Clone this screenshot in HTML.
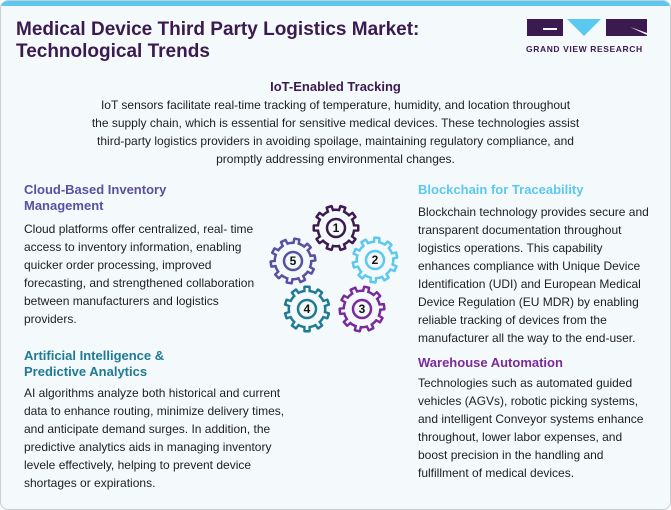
<!DOCTYPE html>
<html><head><meta charset="utf-8"><style>
html,body{margin:0;padding:0;width:671px;height:510px;overflow:hidden;background:#fff;font-family:"Liberation Sans",sans-serif;}
.card{position:absolute;left:0;top:0;width:669px;height:508px;border:1px solid #c9ced3;border-radius:8px;background:#f4f9fc;overflow:hidden;}
.bar{position:absolute;left:0;top:0;width:100%;height:5px;background:#5bc8f0;}
.t{position:absolute;white-space:nowrap;line-height:18px;font-size:12px;color:#1e1e1e;}
.h{position:absolute;white-space:nowrap;line-height:16px;font-size:13px;font-weight:bold;}
.title{position:absolute;left:16px;font-size:19px;font-weight:bold;color:#3b1a4f;white-space:nowrap;line-height:22px;}
</style></head><body>
<div class="card"><div class="bar"></div></div>

<div class="title" style="top:19px">Medical Device Third Party Logistics Market:</div>
<div class="title" style="top:41px">Technological Trends</div>

<!-- logo -->
<div style="position:absolute;left:527px;top:19px;width:36px;height:17px;background:#3b1a4f"></div>
<div style="position:absolute;left:543px;top:28px;width:14px;height:2px;background:#f4f9fc"></div>
<svg style="position:absolute;left:567px;top:19px" width="34" height="18"><polygon points="0,0 34,0 17,17" fill="#5bc8f0"/></svg>
<div style="position:absolute;left:606px;top:19px;width:41px;height:17px;background:#3b1a4f"></div>
<svg style="position:absolute;left:630px;top:27px" width="18" height="9"><polygon points="0,0 17,6 17,8" fill="#f4f9fc"/></svg>
<div style="position:absolute;left:526px;top:44px;font-size:8.5px;font-weight:bold;color:#3b1a4f;letter-spacing:0.6px;white-space:nowrap">GRAND VIEW RESEARCH</div>

<!-- IoT -->
<div class="h" style="left:0;width:671px;text-align:center;top:79px;color:#3b1a4f">IoT-Enabled Tracking</div>
<div class="t" style="left:0;width:671px;text-align:center;top:96px">IoT sensors facilitate real-time tracking of temperature, humidity, and location throughout</div>
<div class="t" style="left:0;width:671px;text-align:center;top:114px">the supply chain, which is essential for sensitive medical devices. These technologies assist</div>
<div class="t" style="left:0;width:671px;text-align:center;top:132px">third-party logistics providers in avoiding spoilage, maintaining regulatory compliance, and</div>
<div class="t" style="left:0;width:671px;text-align:center;top:150px">promptly addressing environmental changes.</div>

<!-- Cloud -->
<div class="h" style="left:24px;top:182px;color:#5a4fa0">Cloud-Based Inventory</div>
<div class="h" style="left:24px;top:198px;color:#5a4fa0">Management</div>
<div class="t" style="left:24px;top:220px">Cloud platforms offer centralized, real- time</div>
<div class="t" style="left:24px;top:238px">access to inventory information, enabling</div>
<div class="t" style="left:24px;top:256px">quicker order processing, improved</div>
<div class="t" style="left:24px;top:274px">forecasting, and strengthened collaboration</div>
<div class="t" style="left:24px;top:292px">between manufacturers and logistics</div>
<div class="t" style="left:24px;top:310px">providers.</div>

<!-- AI -->
<div class="h" style="left:24px;top:348px;color:#1f7a95">Artificial Intelligence &amp;</div>
<div class="h" style="left:24px;top:364px;color:#1f7a95">Predictive Analytics</div>
<div class="t" style="left:24px;top:384px">AI algorithms analyze both historical and current</div>
<div class="t" style="left:24px;top:402px">data to enhance routing, minimize delivery times,</div>
<div class="t" style="left:24px;top:420px">and anticipate demand surges. In addition, the</div>
<div class="t" style="left:24px;top:438px">predictive analytics aids in managing inventory</div>
<div class="t" style="left:24px;top:456px">levele effectively, helping to prevent device</div>
<div class="t" style="left:24px;top:474px">shortages or expirations.</div>

<!-- Blockchain -->
<div class="h" style="left:418px;top:182px;color:#5bc8f0">Blockchain for Traceability</div>
<div class="t" style="left:418px;top:203px">Blockchain technology provides secure and</div>
<div class="t" style="left:418px;top:221px">transparent documentation throughout</div>
<div class="t" style="left:418px;top:239px">logistics operations. This capability</div>
<div class="t" style="left:418px;top:257px">enhances compliance with Unique Device</div>
<div class="t" style="left:418px;top:275px">Identification (UDI) and European Medical</div>
<div class="t" style="left:418px;top:293px">Device Regulation (EU MDR) by enabling</div>
<div class="t" style="left:418px;top:311px">reliable tracking of devices from the</div>
<div class="t" style="left:418px;top:329px">manufacturer all the way to the end-user.</div>

<!-- Warehouse -->
<div class="h" style="left:418px;top:355px;color:#7a2a9a">Warehouse Automation</div>
<div class="t" style="left:418px;top:374px">Technologies such as automated guided</div>
<div class="t" style="left:418px;top:392px">vehicles (AGVs), robotic picking systems,</div>
<div class="t" style="left:418px;top:410px">and intelligent Conveyor systems enhance</div>
<div class="t" style="left:418px;top:428px">throughout, lower labor expenses, and</div>
<div class="t" style="left:418px;top:446px">boost precision in the handling and</div>
<div class="t" style="left:418px;top:464px">fulfillment of medical devices.</div>

<!-- gears -->
<svg style="position:absolute;left:0;top:0" width="671" height="510">
<defs>
<g id="gO">
<circle r="19.5"/>
<rect x="-3.8" y="-23.5" width="7.6" height="9" rx="1.5" transform="rotate(0)"/>
<rect x="-3.8" y="-23.5" width="7.6" height="9" rx="1.5" transform="rotate(36)"/>
<rect x="-3.8" y="-23.5" width="7.6" height="9" rx="1.5" transform="rotate(72)"/>
<rect x="-3.8" y="-23.5" width="7.6" height="9" rx="1.5" transform="rotate(108)"/>
<rect x="-3.8" y="-23.5" width="7.6" height="9" rx="1.5" transform="rotate(144)"/>
<rect x="-3.8" y="-23.5" width="7.6" height="9" rx="1.5" transform="rotate(180)"/>
<rect x="-3.8" y="-23.5" width="7.6" height="9" rx="1.5" transform="rotate(216)"/>
<rect x="-3.8" y="-23.5" width="7.6" height="9" rx="1.5" transform="rotate(252)"/>
<rect x="-3.8" y="-23.5" width="7.6" height="9" rx="1.5" transform="rotate(288)"/>
<rect x="-3.8" y="-23.5" width="7.6" height="9" rx="1.5" transform="rotate(324)"/>
</g>
<g id="gI">
<circle r="17"/>
<rect x="-1.4" y="-21" width="2.8" height="6" transform="rotate(0)"/>
<rect x="-1.4" y="-21" width="2.8" height="6" transform="rotate(36)"/>
<rect x="-1.4" y="-21" width="2.8" height="6" transform="rotate(72)"/>
<rect x="-1.4" y="-21" width="2.8" height="6" transform="rotate(108)"/>
<rect x="-1.4" y="-21" width="2.8" height="6" transform="rotate(144)"/>
<rect x="-1.4" y="-21" width="2.8" height="6" transform="rotate(180)"/>
<rect x="-1.4" y="-21" width="2.8" height="6" transform="rotate(216)"/>
<rect x="-1.4" y="-21" width="2.8" height="6" transform="rotate(252)"/>
<rect x="-1.4" y="-21" width="2.8" height="6" transform="rotate(288)"/>
<rect x="-1.4" y="-21" width="2.8" height="6" transform="rotate(324)"/>
</g>
</defs>
<g font-family="Liberation Sans, sans-serif" font-weight="bold" font-size="12" text-anchor="middle" fill="#111">
<g transform="translate(336,228) rotate(18)"><use href="#gO" fill="#3b1a4f"/><use href="#gI" fill="#f4f9fc"/></g>
<circle cx="336" cy="228" r="9" fill="#f4f9fc" stroke="#3b1a4f" stroke-width="2.5"/><text x="336" y="232">1</text>
<g transform="translate(375,260) rotate(5)"><use href="#gO" fill="#5bc8f0"/><use href="#gI" fill="#f4f9fc"/></g>
<circle cx="375" cy="260" r="9" fill="#f4f9fc" stroke="#5bc8f0" stroke-width="2.5"/><text x="375" y="264">2</text>
<g transform="translate(362,309) rotate(12)"><use href="#gO" fill="#7a2a9a"/><use href="#gI" fill="#f4f9fc"/></g>
<circle cx="362" cy="309" r="9" fill="#f4f9fc" stroke="#7a2a9a" stroke-width="2.5"/><text x="362" y="313">3</text>
<g transform="translate(307,309) rotate(0)"><use href="#gO" fill="#1f7a95"/><use href="#gI" fill="#f4f9fc"/></g>
<circle cx="307" cy="309" r="9" fill="#f4f9fc" stroke="#1f7a95" stroke-width="2.5"/><text x="307" y="313">4</text>
<g transform="translate(293,261) rotate(10)"><use href="#gO" fill="#5a4fa0"/><use href="#gI" fill="#f4f9fc"/></g>
<circle cx="293" cy="261" r="9" fill="#f4f9fc" stroke="#5a4fa0" stroke-width="2.5"/><text x="293" y="265">5</text>
</g>
</svg>
</body></html>
